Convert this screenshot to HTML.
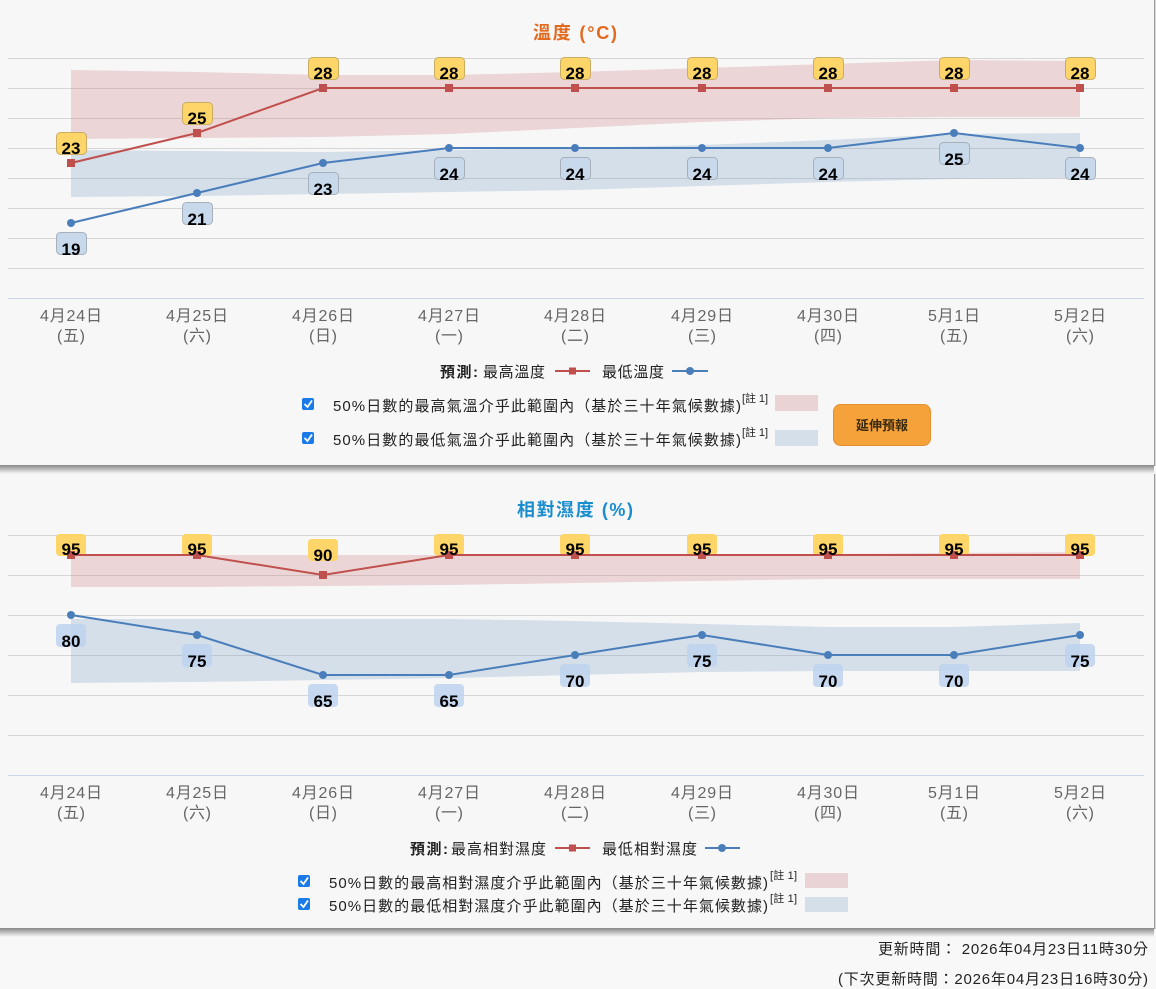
<!DOCTYPE html>
<html><head><meta charset="utf-8"><style>
html,body{margin:0;padding:0;background:#f8f8f8;}
svg{display:block;}
text{font-family:"Liberation Sans","Noto Sans CJK TC",sans-serif;}
.num{font-family:"Liberation Sans",sans-serif;font-weight:bold;font-size:17px;fill:#000;text-anchor:middle;}
.ax{font-size:16px;fill:#666;text-anchor:middle;}
.lg{font-size:15px;fill:#222;}
</style></head><body>
<svg width="1156" height="989" viewBox="0 0 1156 989" xmlns="http://www.w3.org/2000/svg">
<defs>
<linearGradient id="sh" x1="0" y1="0" x2="0" y2="1">
<stop offset="0" stop-color="#000" stop-opacity="0.45"/>
<stop offset="1" stop-color="#000" stop-opacity="0"/>
</linearGradient>
<linearGradient id="shr" x1="0" y1="0" x2="1" y2="0">
<stop offset="0" stop-color="#000" stop-opacity="0.5"/>
<stop offset="1" stop-color="#000" stop-opacity="0"/>
</linearGradient>
</defs>
<rect width="1156" height="989" fill="#f8f8f8"/>
<!-- Panel 1 -->
<rect x="0" y="0" width="1154" height="465" fill="#f7f7f7"/>
<rect x="0" y="465" width="1154" height="9" fill="url(#sh)"/>
<rect x="1154" y="0" width="2" height="466" fill="url(#shr)"/>
<!-- Panel 2 -->
<rect x="0" y="474" width="1154" height="454" fill="#f7f7f7"/>
<rect x="0" y="928" width="1154" height="9" fill="url(#sh)"/>
<rect x="1154" y="474" width="2" height="455" fill="url(#shr)"/>

<!-- ===== Temperature chart ===== -->
<text x="575" y="39" text-anchor="middle" font-size="18" font-weight="bold" fill="#e2691e" textLength="84">溫度 (°C)</text>
<g stroke="#d6d6d6" stroke-width="1">
<line x1="8" y1="58.5" x2="1144" y2="58.5"/>
<line x1="8" y1="88.5" x2="1144" y2="88.5"/>
<line x1="8" y1="118.5" x2="1144" y2="118.5"/>
<line x1="8" y1="148.5" x2="1144" y2="148.5"/>
<line x1="8" y1="178.5" x2="1144" y2="178.5"/>
<line x1="8" y1="208.5" x2="1144" y2="208.5"/>
<line x1="8" y1="238.5" x2="1144" y2="238.5"/>
<line x1="8" y1="268.5" x2="1144" y2="268.5"/>
</g>
<line x1="8" y1="298.5" x2="1144" y2="298.5" stroke="#ccd6eb" stroke-width="1"/>
<polygon fill="rgba(205,110,115,0.25)" points="71,70 197,72 323,75 449,75 575,72 702,68 828,64 954,60 1080,61 1080,117 954,117 828,118 702,122 575,128 449,134 323,137 197,138 71,139"/>
<polygon fill="rgba(110,150,195,0.25)" points="71,150 197,151 323,152 449,150 575,148 702,145 828,140 954,134 1080,133 1080,178 954,179 828,182 702,186 575,190 449,192 323,194 197,196 71,197"/>
<polyline fill="none" stroke="#c0504d" stroke-width="2" points="71,163 197,133 323,88 449,88 575,88 702,88 828,88 954,88 1080,88"/>
<polyline fill="none" stroke="#4a7ebb" stroke-width="2" points="71,223 197,193 323,163 449,148 575,148 702,148 828,148 954,133 1080,148"/>
<g fill="#c0504d">
<rect x="67" y="159" width="8" height="8"/><rect x="193" y="129" width="8" height="8"/>
<rect x="319" y="84" width="8" height="8"/><rect x="445" y="84" width="8" height="8"/>
<rect x="571" y="84" width="8" height="8"/><rect x="698" y="84" width="8" height="8"/>
<rect x="824" y="84" width="8" height="8"/><rect x="950" y="84" width="8" height="8"/>
<rect x="1076" y="84" width="8" height="8"/>
</g>
<g fill="#4a7ebb">
<circle cx="71" cy="223" r="4"/><circle cx="197" cy="193" r="4"/><circle cx="323" cy="163" r="4"/>
<circle cx="449" cy="148" r="4"/><circle cx="575" cy="148" r="4"/><circle cx="702" cy="148" r="4"/>
<circle cx="828" cy="148" r="4"/><circle cx="954" cy="133" r="4"/><circle cx="1080" cy="148" r="4"/>
</g>
<!-- max labels -->
<g fill="#fdd568" stroke="#c9ad62" stroke-width="1">
<rect x="56.5" y="132.5" width="30" height="22" rx="4"/>
<rect x="182.5" y="102.5" width="30" height="22" rx="4"/>
<rect x="308.5" y="57.5" width="30" height="22" rx="4"/>
<rect x="434.5" y="57.5" width="30" height="22" rx="4"/>
<rect x="560.5" y="57.5" width="30" height="22" rx="4"/>
<rect x="687.5" y="57.5" width="30" height="22" rx="4"/>
<rect x="813.5" y="57.5" width="30" height="22" rx="4"/>
<rect x="939.5" y="57.5" width="30" height="22" rx="4"/>
<rect x="1065.5" y="57.5" width="30" height="22" rx="4"/>
</g>
<text class="num" x="71" y="154">23</text>
<text class="num" x="197" y="124">25</text>
<text class="num" x="323" y="79">28</text>
<text class="num" x="449" y="79">28</text>
<text class="num" x="575" y="79">28</text>
<text class="num" x="702" y="79">28</text>
<text class="num" x="828" y="79">28</text>
<text class="num" x="954" y="79">28</text>
<text class="num" x="1080" y="79">28</text>
<!-- min labels -->
<g fill="#c9d9ec" stroke="#a6afba" stroke-width="1">
<rect x="56.5" y="232.5" width="30" height="22" rx="4"/>
<rect x="182.5" y="202.5" width="30" height="22" rx="4"/>
<rect x="308.5" y="172.5" width="30" height="22" rx="4"/>
<rect x="434.5" y="157.5" width="30" height="22" rx="4"/>
<rect x="560.5" y="157.5" width="30" height="22" rx="4"/>
<rect x="687.5" y="157.5" width="30" height="22" rx="4"/>
<rect x="813.5" y="157.5" width="30" height="22" rx="4"/>
<rect x="939.5" y="142.5" width="30" height="22" rx="4"/>
<rect x="1065.5" y="157.5" width="30" height="22" rx="4"/>
</g>
<text class="num" x="71" y="255">19</text>
<text class="num" x="197" y="225">21</text>
<text class="num" x="323" y="195">23</text>
<text class="num" x="449" y="180">24</text>
<text class="num" x="575" y="180">24</text>
<text class="num" x="702" y="180">24</text>
<text class="num" x="828" y="180">24</text>
<text class="num" x="954" y="165">25</text>
<text class="num" x="1080" y="180">24</text>
<!-- x axis labels -->
<g>
<text class="ax" x="71" y="321" textLength="62">4月24日</text><text class="ax" x="71" y="341" textLength="28">(五)</text>
<text class="ax" x="197" y="321" textLength="62">4月25日</text><text class="ax" x="197" y="341" textLength="28">(六)</text>
<text class="ax" x="323" y="321" textLength="62">4月26日</text><text class="ax" x="323" y="341" textLength="28">(日)</text>
<text class="ax" x="449" y="321" textLength="62">4月27日</text><text class="ax" x="449" y="341" textLength="28">(一)</text>
<text class="ax" x="575" y="321" textLength="62">4月28日</text><text class="ax" x="575" y="341" textLength="28">(二)</text>
<text class="ax" x="702" y="321" textLength="62">4月29日</text><text class="ax" x="702" y="341" textLength="28">(三)</text>
<text class="ax" x="828" y="321" textLength="62">4月30日</text><text class="ax" x="828" y="341" textLength="28">(四)</text>
<text class="ax" x="954" y="321" textLength="52">5月1日</text><text class="ax" x="954" y="341" textLength="28">(五)</text>
<text class="ax" x="1080" y="321" textLength="52">5月2日</text><text class="ax" x="1080" y="341" textLength="28">(六)</text>
</g>
<!-- legend -->
<text class="lg" x="440" y="377" font-weight="bold" textLength="38">預測:</text>
<text class="lg" x="483" y="377" textLength="62">最高溫度</text>
<line x1="555" y1="371" x2="590" y2="371" stroke="#c0504d" stroke-width="2"/>
<rect x="569" y="367.5" width="7" height="7" fill="#c0504d"/>
<text class="lg" x="602" y="377" textLength="62">最低溫度</text>
<line x1="672" y1="371" x2="708" y2="371" stroke="#4a7ebb" stroke-width="2"/>
<circle cx="690" cy="371" r="4" fill="#4a7ebb"/>
<!-- checkbox rows -->
<rect x="302" y="398" width="12" height="12" rx="2" fill="#1a7be8"/>
<polyline points="304.5,404 307.5,407 312,400.5" fill="none" stroke="#fff" stroke-width="1.8"/>
<text class="lg" x="333" y="411" textLength="408">50%日數的最高氣溫介乎此範圍內（基於三十年氣候數據)</text>
<text x="742" y="402" font-size="11" fill="#222" textLength="26">[註 1]</text>
<rect x="775" y="395" width="43" height="16" fill="#ead3d4"/>
<rect x="302" y="432" width="12" height="12" rx="2" fill="#1a7be8"/>
<polyline points="304.5,438 307.5,441 312,434.5" fill="none" stroke="#fff" stroke-width="1.8"/>
<text class="lg" x="333" y="445" textLength="408">50%日數的最低氣溫介乎此範圍內（基於三十年氣候數據)</text>
<text x="742" y="436" font-size="11" fill="#222" textLength="26">[註 1]</text>
<rect x="775" y="430" width="43" height="16" fill="#d5dfe9"/>
<!-- button -->
<rect x="833.5" y="404.5" width="97" height="41" rx="7" fill="#f6a23b" stroke="#e39030"/>
<text x="882" y="430" text-anchor="middle" font-size="13" font-weight="bold" fill="#3a2a10">延伸預報</text>

<!-- ===== Humidity chart ===== -->
<text x="575" y="516" text-anchor="middle" font-size="18" font-weight="bold" fill="#1a8dcf" textLength="116">相對濕度 (%)</text>
<g stroke="#d6d6d6" stroke-width="1">
<line x1="8" y1="535.5" x2="1144" y2="535.5"/>
<line x1="8" y1="575.5" x2="1144" y2="575.5"/>
<line x1="8" y1="615.5" x2="1144" y2="615.5"/>
<line x1="8" y1="655.5" x2="1144" y2="655.5"/>
<line x1="8" y1="695.5" x2="1144" y2="695.5"/>
<line x1="8" y1="735.5" x2="1144" y2="735.5"/>
</g>
<line x1="8" y1="775.5" x2="1144" y2="775.5" stroke="#ccd6eb" stroke-width="1"/>
<polygon fill="rgba(205,110,115,0.25)" points="71,555 197,555 323,555 449,555 575,555 702,555 828,554 954,553 1080,552 1080,579 954,579 828,579 702,581 575,583 449,585 323,586 197,587 71,587"/>
<polygon fill="rgba(110,150,195,0.25)" points="71,619 197,619 323,619 449,619 575,621 702,624 828,627 954,627 1080,623 1080,671 954,671 828,671 702,672 575,675 449,678 323,680 197,682 71,683"/>
<g fill="#fdd568">
<rect x="56" y="534" width="30" height="22" rx="4"/>
<rect x="182" y="534" width="30" height="22" rx="4"/>
<rect x="308" y="539" width="30" height="22" rx="4"/>
<rect x="434" y="534" width="30" height="22" rx="4"/>
<rect x="560" y="534" width="30" height="22" rx="4"/>
<rect x="687" y="534" width="30" height="22" rx="4"/>
<rect x="813" y="534" width="30" height="22" rx="4"/>
<rect x="939" y="534" width="30" height="22" rx="4"/>
<rect x="1065" y="534" width="30" height="22" rx="4"/>
</g>
<polyline fill="none" stroke="#c0504d" stroke-width="2" points="71,555 197,555 323,575 449,555 575,555 702,555 828,555 954,555 1080,555"/>
<polyline fill="none" stroke="#4a7ebb" stroke-width="2" points="71,615 197,635 323,675 449,675 575,655 702,635 828,655 954,655 1080,635"/>
<g fill="#c0504d">
<rect x="67" y="551" width="8" height="8"/><rect x="193" y="551" width="8" height="8"/>
<rect x="319" y="571" width="8" height="8"/><rect x="445" y="551" width="8" height="8"/>
<rect x="571" y="551" width="8" height="8"/><rect x="698" y="551" width="8" height="8"/>
<rect x="824" y="551" width="8" height="8"/><rect x="950" y="551" width="8" height="8"/>
<rect x="1076" y="551" width="8" height="8"/>
</g>
<g fill="#4a7ebb">
<circle cx="71" cy="615" r="4"/><circle cx="197" cy="635" r="4"/><circle cx="323" cy="675" r="4"/>
<circle cx="449" cy="675" r="4"/><circle cx="575" cy="655" r="4"/><circle cx="702" cy="635" r="4"/>
<circle cx="828" cy="655" r="4"/><circle cx="954" cy="655" r="4"/><circle cx="1080" cy="635" r="4"/>
</g>
<g fill="#fdd568">
<rect x="56" y="534" width="30" height="17" rx="4"/>
<rect x="182" y="534" width="30" height="17" rx="4"/>
<rect x="308" y="539" width="30" height="17" rx="4"/>
<rect x="434" y="534" width="30" height="17" rx="4"/>
<rect x="560" y="534" width="30" height="17" rx="4"/>
<rect x="687" y="534" width="30" height="17" rx="4"/>
<rect x="813" y="534" width="30" height="17" rx="4"/>
<rect x="939" y="534" width="30" height="17" rx="4"/>
<rect x="1065" y="534" width="30" height="17" rx="4"/>
</g>
<text class="num" x="71" y="555">95</text>
<text class="num" x="197" y="555">95</text>
<text class="num" x="323" y="561">90</text>
<text class="num" x="449" y="555">95</text>
<text class="num" x="575" y="555">95</text>
<text class="num" x="702" y="555">95</text>
<text class="num" x="828" y="555">95</text>
<text class="num" x="954" y="555">95</text>
<text class="num" x="1080" y="555">95</text>
<g fill="rgba(190,212,238,0.85)">
<rect x="56" y="624" width="30" height="23" rx="4"/>
<rect x="182" y="644" width="30" height="23" rx="4"/>
<rect x="308" y="684" width="30" height="23" rx="4"/>
<rect x="434" y="684" width="30" height="23" rx="4"/>
<rect x="560" y="664" width="30" height="23" rx="4"/>
<rect x="687" y="644" width="30" height="23" rx="4"/>
<rect x="813" y="664" width="30" height="23" rx="4"/>
<rect x="939" y="664" width="30" height="23" rx="4"/>
<rect x="1065" y="644" width="30" height="23" rx="4"/>
</g>
<text class="num" x="71" y="647">80</text>
<text class="num" x="197" y="667">75</text>
<text class="num" x="323" y="707">65</text>
<text class="num" x="449" y="707">65</text>
<text class="num" x="575" y="687">70</text>
<text class="num" x="702" y="667">75</text>
<text class="num" x="828" y="687">70</text>
<text class="num" x="954" y="687">70</text>
<text class="num" x="1080" y="667">75</text>
<g>
<text class="ax" x="71" y="798" textLength="62">4月24日</text><text class="ax" x="71" y="818" textLength="28">(五)</text>
<text class="ax" x="197" y="798" textLength="62">4月25日</text><text class="ax" x="197" y="818" textLength="28">(六)</text>
<text class="ax" x="323" y="798" textLength="62">4月26日</text><text class="ax" x="323" y="818" textLength="28">(日)</text>
<text class="ax" x="449" y="798" textLength="62">4月27日</text><text class="ax" x="449" y="818" textLength="28">(一)</text>
<text class="ax" x="575" y="798" textLength="62">4月28日</text><text class="ax" x="575" y="818" textLength="28">(二)</text>
<text class="ax" x="702" y="798" textLength="62">4月29日</text><text class="ax" x="702" y="818" textLength="28">(三)</text>
<text class="ax" x="828" y="798" textLength="62">4月30日</text><text class="ax" x="828" y="818" textLength="28">(四)</text>
<text class="ax" x="954" y="798" textLength="52">5月1日</text><text class="ax" x="954" y="818" textLength="28">(五)</text>
<text class="ax" x="1080" y="798" textLength="52">5月2日</text><text class="ax" x="1080" y="818" textLength="28">(六)</text>
</g>
<text class="lg" x="410" y="854" font-weight="bold" textLength="38">預測:</text>
<text class="lg" x="451" y="854" textLength="95">最高相對濕度</text>
<line x1="555" y1="848" x2="590" y2="848" stroke="#c0504d" stroke-width="2"/>
<rect x="569" y="844.5" width="7" height="7" fill="#c0504d"/>
<text class="lg" x="602" y="854" textLength="95">最低相對濕度</text>
<line x1="705" y1="848" x2="740" y2="848" stroke="#4a7ebb" stroke-width="2"/>
<circle cx="722" cy="848" r="4" fill="#4a7ebb"/>
<rect x="298" y="875" width="12" height="12" rx="2" fill="#1a7be8"/>
<polyline points="300.5,881 303.5,884 308,877.5" fill="none" stroke="#fff" stroke-width="1.8"/>
<text class="lg" x="329" y="888" textLength="439">50%日數的最高相對濕度介乎此範圍內（基於三十年氣候數據)</text>
<text x="770" y="879" font-size="11" fill="#222" textLength="27">[註 1]</text>
<rect x="805" y="873" width="43" height="15" fill="#ead3d4"/>
<rect x="298" y="898" width="12" height="12" rx="2" fill="#1a7be8"/>
<polyline points="300.5,904 303.5,907 308,900.5" fill="none" stroke="#fff" stroke-width="1.8"/>
<text class="lg" x="329" y="911" textLength="439">50%日數的最低相對濕度介乎此範圍內（基於三十年氣候數據)</text>
<text x="770" y="902" font-size="11" fill="#222" textLength="27">[註 1]</text>
<rect x="805" y="897" width="43" height="15" fill="#d5dfe9"/>

<!-- footer -->
<text x="1148" y="954" text-anchor="end" font-size="15" fill="#222" textLength="270">更新時間： 2026年04月23日11時30分</text>
<text x="1148" y="984" text-anchor="end" font-size="15" fill="#222" textLength="310">(下次更新時間：2026年04月23日16時30分)</text>
</svg>
</body></html>
